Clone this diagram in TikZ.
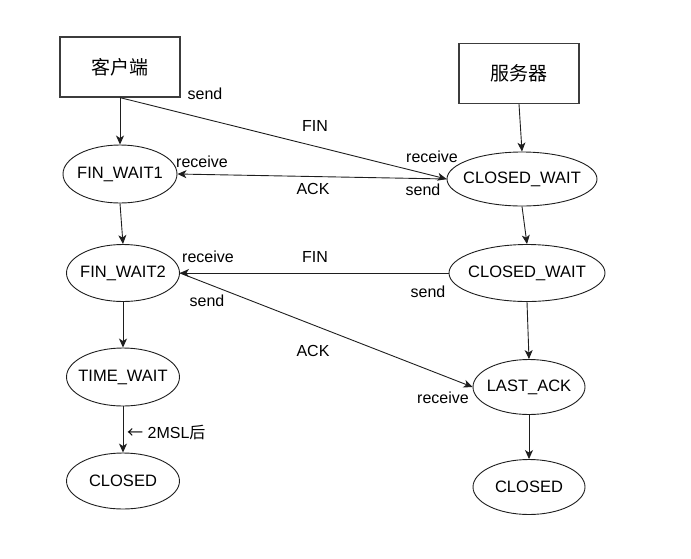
\documentclass[tikz,border=0pt]{standalone}
\usepackage{fontspec}
\setmainfont{Liberation Sans}
\newfontfamily\cjk{Noto Sans CJK SC}
\usetikzlibrary{arrows.meta,shapes.geometric}
\definecolor{figline}{RGB}{30,30,30}
\definecolor{figbox}{RGB}{60,60,60}
\tikzset{
  hostb/.style ={draw=figbox, line width=1.2pt, minimum width=120pt, minimum height=60pt, inner sep=0pt, font=\fontsize{19}{22}\selectfont\cjk},
  stext/.style ={font=\fontsize{16.5}{19}\selectfont, inner sep=0pt},
  stat/.style  ={ellipse, draw=figline, line width=0.9pt, inner sep=0pt},
  lab/.style   ={font=\fontsize{16}{19}\selectfont, inner sep=1pt},
  ptr/.style   ={draw=figline, line width=0.9pt, -{Stealth[length=9pt,width=8pt,inset=2.5pt]}},
}
\begin{document}
\begin{tikzpicture}[x=1pt,y=-1pt]
  \useasboundingbox (0,0) rectangle (691,558);
  % hosts
  \node[hostb] (client) at (120,67) {客户端};
  \node[hostb] (server) at (519,73.5) {服务器};
  % client side states
  \node[stat,minimum width=114pt,minimum height=58pt,label={[stext]center:FIN\_WAIT1}] (fw1) at (120,174) {};
  \node[stat,minimum width=113pt,minimum height=57pt,label={[stext]center:FIN\_WAIT2}] (fw2) at (123,273) {};
  \node[stat,minimum width=113pt,minimum height=58pt,label={[stext]center:TIME\_WAIT}] (tw) at (123,377) {};
  \node[stat,minimum width=113pt,minimum height=56pt,label={[stext]center:CLOSED}] (cl1) at (123,481) {};
  % server side states
  \node[stat,minimum width=150pt,minimum height=54pt,label={[stext]center:CLOSED\_WAIT}] (cw1) at (522,179) {};
  \node[stat,minimum width=156pt,minimum height=57pt,label={[stext]center:CLOSED\_WAIT}] (cw2) at (527,273) {};
  \node[stat,minimum width=112pt,minimum height=55pt,label={[stext]center:LAST\_ACK}] (la) at (529,387) {};
  \node[stat,minimum width=112pt,minimum height=55pt,label={[stext]center:CLOSED}] (cl2) at (529,487) {};
  % connectors
  \draw[ptr] (client.south) -- (fw1.north);
  \draw[ptr] (client.south) -- (cw1.west);
  \draw[ptr] (cw1.west) -- (fw1.east);
  \draw[ptr] (server.south) -- (cw1.north);
  \draw[ptr] (fw1.south) -- (fw2.north);
  \draw[ptr] (cw1.south) -- (cw2.north);
  \draw[ptr] (cw2.west) -- (fw2.east);
  \draw[ptr] (fw2.east) -- (la.west);
  \draw[ptr] (cw2.south) -- (la.north);
  \draw[ptr] (la.south) -- (cl2.north);
  \draw[ptr] (fw2.south) -- (tw.north);
  \draw[ptr] (tw.south) -- (cl1.north);
  % labels
  \node[lab] (l1) at (205,94) {send};
  \node[lab] (l2) at (315,126) {FIN};
  \node[lab] (l3) at (432,157) {receive};
  \node[lab] (l4) at (202,162) {receive};
  \node[lab] (l5) at (313,189) {ACK};
  \node[lab] (l6) at (423,190) {send};
  \node[lab] (l7) at (208,257) {receive};
  \node[lab] (l8) at (315,257) {FIN};
  \node[lab] (l9) at (428,292) {send};
  \node[lab] (l10) at (207,301) {send};
  \node[lab] (l11) at (313,351) {ACK};
  \node[lab] (l12) at (443,398) {receive};
  \node[lab,anchor=west] (l13) at (126,432) {{\cjk ←} 2MSL{\cjk 后}};
\end{tikzpicture}
\end{document}
